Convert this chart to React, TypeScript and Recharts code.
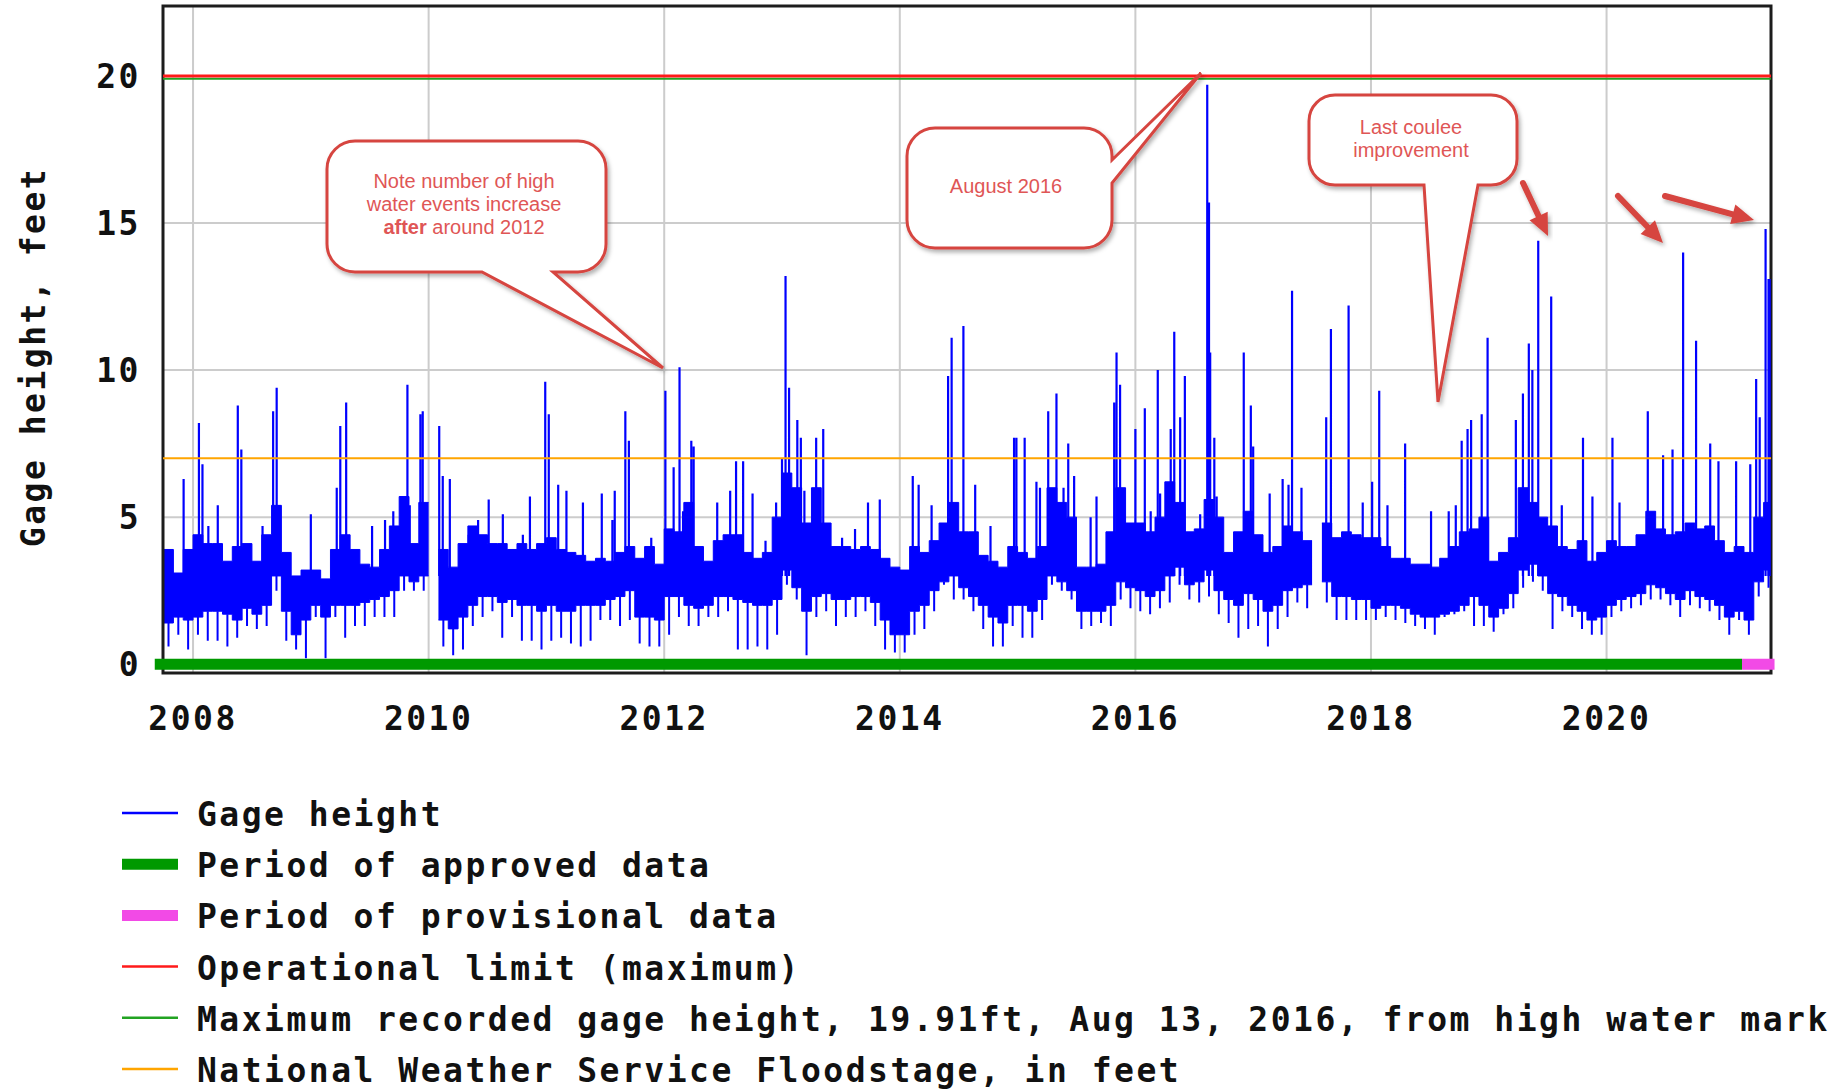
import React from 'react';
import {
  ComposedChart,
  Area,
  Line,
  XAxis,
  YAxis,
  CartesianGrid,
  ReferenceLine,
  ReferenceArea,
} from 'recharts';

const MONO = '"DejaVu Sans Mono", monospace';
const SANS = '"Liberation Sans", Arial, sans-serif';

// ---- axis ranges / ticks ----
const X_MIN = 2007.745;
const X_MAX = 2021.396;
const DATA_END = 2021.39;
const APPROVED_END = 2021.15;
const Y_MIN = -0.3;
const Y_MAX = 22.38;
const xTicks = [2008, 2010, 2012, 2014, 2016, 2018, 2020];
const yTicks = [0, 5, 10, 15, 20];

// ---- reference levels (feet) ----
const OPERATIONAL_LIMIT = 20.0;
const MAX_RECORDED = 19.91;
const FLOOD_STAGE = 7.0;

// ---- monthly body of the gage record, Oct 2007 .. May 2021 ----
const FIRST_YEAR = 2007;
const FIRST_MONTH = 10;
const bodyLow: (number | null)[] = [
  1.4, 1.6, 1.5,
  1.6, 1.8, 1.8, 1.7, 1.5, 1.9, 1.7, 2.0, 3.0, 1.8, 1.0, 1.5,
  2.0, 1.6, 2.0, 2.0, 2.0, 2.1, 2.2, 2.3, 2.5, 3.0, 2.8, 3.0,
  null, 1.5, 1.2, 1.6, 2.0, 2.3, 2.3, 2.1, 2.2, 2.0, 2.0, 1.8,
  2.0, 1.8, 1.8, 2.0, 2.0, 2.0, 2.2, 2.3, 2.5, 1.6, 1.6, 1.5,
  2.3, 2.3, 2.0, 1.9, 2.0, 2.3, 2.3, 2.2, 2.1, 2.0, 2.0, 2.2,
  3.2, 2.6, 1.8, 2.3, 2.4, 2.2, 2.2, 2.3, 2.3, 2.1, 1.5, 1.0,
  1.0, 1.8, 2.0, 2.5, 2.8, 3.0, 2.6, 2.3, 2.0, 1.6, 1.4, 2.0,
  2.0, 1.8, 2.2, 3.0, 2.8, 2.5, 1.8, 1.8, 1.8, 2.0, 2.8, 2.6,
  2.5, 2.3, 2.5, 3.0, 3.3, 2.7, 2.8, 3.2, 2.5, 2.2, 2.0, 2.4,
  2.2, 1.8, 2.0, 2.5, 2.6, 2.7, null, 2.8, 2.3, 2.3, 2.2, 2.2,
  1.9, 2.0, 2.0, 1.9, 1.7, 1.6, 1.6, 1.7, 1.8, 2.0, 2.3, 2.0,
  1.6, 1.9, 2.4, 3.2, 3.4, 3.0, 2.4, 2.3, 2.0, 1.8, 1.5, 1.6,
  2.0, 2.2, 2.3, 2.4, 2.7, 2.6, 2.4, 2.2, 2.5, 2.3, 2.2, 2.0,
  1.6, 1.8, 1.5, 2.8, 3.2,
];
const bodyHigh: (number | null)[] = [
  3.9, 3.1, 3.9,
  4.4, 4.1, 4.1, 3.5, 4.0, 4.1, 3.5, 4.4, 5.4, 3.8, 3.0, 3.2,
  3.2, 2.9, 3.9, 4.4, 3.9, 3.4, 3.3, 3.9, 4.7, 5.7, 4.1, 5.5,
  null, 3.9, 3.3, 4.1, 4.7, 4.4, 4.1, 4.1, 3.9, 4.1, 3.9, 4.1,
  4.3, 3.9, 3.8, 3.7, 3.5, 3.6, 3.5, 3.8, 4.0, 3.6, 4.0, 3.4,
  4.6, 4.5, 5.5, 4.0, 3.5, 4.2, 4.4, 4.4, 3.8, 3.6, 3.8, 5.0,
  6.5, 6.0, 4.8, 6.0, 4.8, 4.0, 4.0, 3.9, 4.0, 3.9, 3.6, 3.3,
  3.2, 4.0, 3.8, 4.2, 4.8, 5.5, 4.5, 4.5, 3.7, 3.5, 3.3, 4.0,
  3.8, 3.6, 4.0, 6.0, 5.5, 5.0, 3.3, 3.3, 3.4, 4.5, 6.0, 4.8,
  4.8, 4.5, 5.0, 6.2, 5.5, 4.5, 4.6, 5.6, 5.0, 3.8, 4.5, 5.2,
  4.4, 3.8, 4.0, 4.7, 4.5, 4.2, null, 4.8, 4.3, 4.5, 4.4, 4.3,
  4.3, 4.0, 3.6, 3.6, 3.4, 3.4, 3.3, 3.6, 4.0, 4.5, 4.6, 5.0,
  3.5, 3.8, 4.3, 6.0, 5.5, 5.0, 4.7, 4.0, 3.9, 4.2, 3.5, 3.8,
  4.2, 4.0, 4.0, 4.4, 5.2, 4.6, 4.4, 4.5, 4.8, 4.6, 4.7, 4.2,
  3.8, 4.0, 3.8, 5.0, 5.5,
];
const bodyMin: (number | null)[] = [
  0.6, 1.0, 0.5,
  1.0, 0.8, 0.8, 0.6, 0.9, 1.3, 1.2, 1.3, 2.5, 0.8, 0.5, 0.2,
  1.6, 0.2, 1.6, 0.9, 1.3, 1.3, 1.6, 1.6, 1.6, 2.5, 2.5, 2.5,
  null, 0.6, 0.3, 0.5, 1.3, 1.6, 1.8, 0.9, 1.6, 0.8, 0.8, 0.5,
  0.8, 0.9, 0.7, 0.6, 0.8, 1.5, 1.5, 1.3, 1.5, 0.7, 0.6, 0.6,
  1.0, 1.6, 1.3, 1.3, 1.6, 1.6, 1.8, 0.5, 0.5, 0.6, 0.5, 1.0,
  2.7, 2.2, 0.3, 1.6, 1.8, 1.3, 1.6, 1.6, 1.8, 1.3, 0.5, 0.4,
  0.4, 1.0, 1.2, 1.8, 2.7, 2.2, 2.2, 1.8, 1.2, 0.6, 0.6, 1.3,
  0.9, 0.9, 1.5, 2.7, 2.5, 2.2, 1.2, 1.3, 1.4, 1.3, 2.2, 1.9,
  1.8, 1.7, 1.9, 2.1, 2.7, 2.2, 2.1, 2.3, 1.7, 1.4, 0.9, 1.2,
  1.3, 0.6, 1.2, 1.6, 2.1, 1.9, null, 2.1, 1.5, 1.5, 1.5, 1.5,
  1.5, 1.6, 1.5, 1.4, 1.3, 1.2, 1.0, 1.6, 1.7, 1.8, 1.3, 1.3,
  1.1, 1.7, 1.9, 2.6, 2.8, 2.5, 1.2, 1.8, 1.6, 1.2, 1.0, 1.0,
  1.6, 1.8, 1.9, 2.0, 2.2, 2.2, 2.0, 1.6, 2.0, 1.9, 1.8, 1.5,
  1.0, 1.5, 1.0, 2.3, 2.6,
];

// ---- high-water spikes (decimal year, peak in feet) ----
const SPIKE_BASE = 3.0;
const spikeTimes = [
  2007.92, 2008.05, 2008.08, 2008.13, 2008.21, 2008.38, 2008.41, 2008.59, 2008.68, 2008.71, 2008.73,
  2009.0, 2009.22, 2009.25, 2009.3, 2009.52, 2009.63, 2009.7, 2009.77, 2009.82, 2009.84, 2009.93, 2009.95,
  2010.09, 2010.12, 2010.18, 2010.34, 2010.42, 2010.51, 2010.63, 2010.8, 2010.86, 2010.99,
  2011.02, 2011.1, 2011.17, 2011.31, 2011.47, 2011.56, 2011.58, 2011.67, 2011.7, 2011.89,
  2012.01, 2012.08, 2012.13, 2012.16, 2012.23, 2012.25, 2012.45, 2012.56, 2012.61, 2012.67, 2012.75, 2012.86, 2012.95,
  2013.0, 2013.03, 2013.06, 2013.13, 2013.16, 2013.19, 2013.29, 2013.35, 2013.51, 2013.62, 2013.73, 2013.83,
  2014.11, 2014.16, 2014.27, 2014.35, 2014.41, 2014.44, 2014.54, 2014.64, 2014.77, 2014.97, 2014.99,
  2015.06, 2015.16, 2015.19, 2015.26, 2015.33, 2015.39, 2015.43, 2015.48, 2015.62, 2015.67, 2015.82, 2015.84, 2015.87,
  2016.0, 2016.08, 2016.13, 2016.19, 2016.21, 2016.3, 2016.33, 2016.38, 2016.42, 2016.55, 2016.61, 2016.625, 2016.635, 2016.67, 2016.69, 2016.92, 2016.98,
  2017.0, 2017.14, 2017.25, 2017.3, 2017.33, 2017.41, 2017.62, 2017.66, 2017.81, 2017.93,
  2018.01, 2018.07, 2018.14, 2018.29, 2018.51, 2018.66, 2018.72, 2018.77, 2018.82, 2018.85, 2018.94, 2018.99,
  2019.23, 2019.29, 2019.34, 2019.37, 2019.42, 2019.53, 2019.62, 2019.8, 2019.88,
  2020.05, 2020.11, 2020.35, 2020.48, 2020.56, 2020.65, 2020.76, 2020.88, 2020.95,
  2021.1, 2021.22, 2021.27, 2021.3, 2021.35, 2021.375, 2021.385,
];
const spikePeaks = [
  6.3, 8.2, 6.8, 4.7, 5.4, 8.8, 7.3, 4.7, 8.6, 9.4, 5.4,
  5.1, 6.0, 8.1, 8.9, 4.7, 4.9, 5.2, 5.7, 9.5, 5.4, 8.5, 8.6,
  8.1, 6.4, 6.3, 4.4, 4.9, 5.6, 5.1, 4.4, 5.7, 9.6,
  8.5, 6.1, 5.9, 5.5, 5.8, 4.9, 5.9, 8.6, 7.6, 4.3,
  9.3, 6.7, 10.1, 5.2, 7.6, 7.4, 5.5, 5.9, 6.9, 6.9, 5.8, 4.2, 5.5,
  7.0, 13.2, 9.4, 8.3, 7.7, 5.9, 7.7, 8.0, 4.3, 4.6, 5.5, 5.6,
  6.4, 6.1, 5.4, 4.7, 9.8, 11.1, 11.5, 6.1, 4.7, 7.7, 7.7,
  7.7, 6.2, 6.0, 8.6, 9.2, 6.0, 7.5, 6.4, 5.0, 5.7, 8.9, 10.6, 9.5,
  8.0, 8.7, 5.2, 10.0, 5.8, 8.0, 11.3, 8.4, 9.8, 5.1, 19.7, 15.7, 10.6, 7.7, 5.7, 10.6, 8.8,
  7.4, 5.8, 6.3, 6.1, 12.7, 6.0, 8.4, 11.4, 12.2, 5.5,
  6.2, 9.3, 5.4, 7.5, 5.2, 5.2, 5.4, 7.6, 8.0, 8.3, 8.5, 11.1,
  8.3, 9.2, 10.9, 10.0, 14.4, 12.5, 5.4, 7.7, 5.7,
  7.7, 5.5, 8.6, 7.1, 7.3, 14.0, 11.0, 7.5, 6.9,
  6.9, 6.8, 9.7, 8.4, 14.8, 13.1, 13.1,
];

// ---- legend ----
const legendLabels = [
  'Gage height',
  'Period of approved data',
  'Period of provisional data',
  'Operational limit (maximum)',
  'Maximum recorded gage height, 19.91ft, Aug 13, 2016, from high water mark',
  'National Weather Service Floodstage, in feet',
];
const legendColors = ['#0000ff', '#009900', '#f24ae6', '#ff1a1a', '#22a322', '#ffa500'];
const legendWidths = [2.5, 11, 11, 2.5, 2.5, 2.5];

// ---- derived rows for the library ----
type BodyRow = { t: number; range: [number, number] | null };
const bodyRows: BodyRow[] = [];
const dipRows: { t: number; v: number | null }[] = [];
bodyLow.forEach((lo, i) => {
  const mIndex = FIRST_MONTH - 1 + i;
  const start = FIRST_YEAR + mIndex / 12;
  const end = Math.min(start + 1 / 12, DATA_END);
  const hi = bodyHigh[i];
  const range: [number, number] | null = lo == null || hi == null ? null : [lo, hi];
  bodyRows.push({ t: Math.max(start, X_MIN), range });
  bodyRows.push({ t: end, range });
  const mn = bodyMin[i];
  if (lo != null && mn != null) {
    const mid = start + 1 / 24;
    dipRows.push({ t: mid, v: lo });
    dipRows.push({ t: mid, v: mn });
    dipRows.push({ t: mid, v: null });
  }
});
const spikeRows: { t: number; v: number | null }[] = [];
spikeTimes.forEach((t, i) => {
  spikeRows.push({ t, v: SPIKE_BASE });
  spikeRows.push({ t, v: spikePeaks[i] });
  spikeRows.push({ t, v: null });
});

const tickFont = {
  fontFamily: MONO,
  fontSize: 33,
  fontWeight: 700,
  letterSpacing: 2.5,
};

const XTick = (props: any) => {
  const { x, y, payload } = props;
  return (
    <text x={x} y={y + 57} textAnchor="middle" fill="#111" style={tickFont}>
      {String(payload.value)}
    </text>
  );
};

const YTick = (props: any) => {
  const { x, y, payload } = props;
  return (
    <text x={x - 22} y={y + 12} textAnchor="end" fill="#111" style={tickFont}>
      {String(payload.value)}
    </text>
  );
};

// ---- annotation helpers ----
const CALLOUT_STROKE = '#d6453f';
const CALLOUT_TEXT = '#df5656';

function boxBottomTail(x0: number, y0: number, x1: number, y1: number, r: number, a: number, b: number, tx: number, ty: number) {
  return `M${x0 + r},${y0} H${x1 - r} A${r},${r} 0 0 1 ${x1},${y0 + r} V${y1 - r} A${r},${r} 0 0 1 ${x1 - r},${y1} H${b} L${tx},${ty} L${a},${y1} H${x0 + r} A${r},${r} 0 0 1 ${x0},${y1 - r} V${y0 + r} A${r},${r} 0 0 1 ${x0 + r},${y0} Z`;
}
function boxRightTail(x0: number, y0: number, x1: number, y1: number, r: number, a: number, b: number, tx: number, ty: number) {
  return `M${x0 + r},${y0} H${x1 - r} A${r},${r} 0 0 1 ${x1},${y0 + r} V${a} L${tx},${ty} L${x1},${b} V${y1 - r} A${r},${r} 0 0 1 ${x1 - r},${y1} H${x0 + r} A${r},${r} 0 0 1 ${x0},${y1 - r} V${y0 + r} A${r},${r} 0 0 1 ${x0 + r},${y0} Z`;
}

function Arrow({ from, to }: { from: [number, number]; to: [number, number] }) {
  const dx = to[0] - from[0];
  const dy = to[1] - from[1];
  const len = Math.hypot(dx, dy);
  const ux = dx / len;
  const uy = dy / len;
  const headLen = 22;
  const headW = 10;
  const bx = to[0] - ux * headLen;
  const by = to[1] - uy * headLen;
  const px = -uy;
  const py = ux;
  return (
    <g filter="url(#shadow)">
      <line x1={from[0]} y1={from[1]} x2={bx + ux * 3} y2={by + uy * 3} stroke={CALLOUT_STROKE} strokeWidth={6} strokeLinecap="round" />
      <polygon
        points={`${to[0]},${to[1]} ${bx + px * headW},${by + py * headW} ${bx - px * headW},${by - py * headW}`}
        fill={CALLOUT_STROKE}
      />
    </g>
  );
}

export default function App() {
  const calloutText = { fontFamily: SANS, fontSize: 20, fill: CALLOUT_TEXT } as const;
  return (
    <div style={{ position: 'absolute', left: 0, top: 0, width: 1837, height: 1091, background: '#fff', overflow: 'hidden' }}>
      <ComposedChart width={1837} height={760} data={bodyRows} margin={{ top: 6, right: 66, bottom: 0, left: 0 }}>
        <CartesianGrid stroke="#cccccc" strokeWidth={2} />
        <XAxis
          dataKey="t"
          type="number"
          domain={[X_MIN, X_MAX]}
          allowDataOverflow
          ticks={xTicks}
          interval={0}
          tick={XTick}
          tickLine={false}
          axisLine={false}
          tickSize={0}
          tickMargin={0}
          height={87}
        />
        <YAxis
          type="number"
          domain={[Y_MIN, Y_MAX]}
          allowDataOverflow
          ticks={yTicks}
          interval={0}
          tick={YTick}
          tickLine={false}
          axisLine={false}
          tickSize={0}
          tickMargin={0}
          width={163}
        />
        <Area
          dataKey="range"
          type="linear"
          stroke="#0000ff"
          strokeWidth={1}
          fill="#0000ff"
          fillOpacity={1}
          connectNulls={false}
          dot={false}
          activeDot={false}
          isAnimationActive={false}
        />
        <Line
          data={dipRows}
          dataKey="v"
          type="linear"
          stroke="#0000ff"
          strokeWidth={2}
          dot={false}
          activeDot={false}
          connectNulls={false}
          isAnimationActive={false}
        />
        <Line
          data={spikeRows}
          dataKey="v"
          type="linear"
          stroke="#0000ff"
          strokeWidth={2.2}
          dot={false}
          activeDot={false}
          connectNulls={false}
          isAnimationActive={false}
        />
        <ReferenceLine y={FLOOD_STAGE} stroke="#ffa500" strokeWidth={2} />
        <ReferenceLine y={MAX_RECORDED} stroke="#22a322" strokeWidth={2} />
        <ReferenceLine y={OPERATIONAL_LIMIT} stroke="#ff1a1a" strokeWidth={3} />
        <ReferenceLine
          segment={[{ x: X_MIN - 0.07, y: 0 }, { x: APPROVED_END, y: 0 }]}
          stroke="#009900"
          strokeWidth={11}
          ifOverflow="visible"
        />
        <ReferenceLine
          segment={[{ x: APPROVED_END, y: 0 }, { x: X_MAX + 0.03, y: 0 }]}
          stroke="#f24ae6"
          strokeWidth={11}
          ifOverflow="visible"
        />
        <ReferenceArea
          x1={X_MIN}
          x2={X_MAX}
          y1={Y_MIN}
          y2={Y_MAX}
          fill="none"
          fillOpacity={0}
          stroke="#1c1c1c"
          strokeWidth={3}
          ifOverflow="visible"
        />
      </ComposedChart>

      <svg width={1837} height={1091} style={{ position: 'absolute', left: 0, top: 0, pointerEvents: 'none' }}>
        <defs>
          <filter id="shadow" x="-20%" y="-20%" width="140%" height="140%">
            <feDropShadow dx="2" dy="3" stdDeviation="2" floodColor="#000" floodOpacity="0.3" />
          </filter>
        </defs>

        {/* y axis title */}
        <text
          x={45}
          y={357}
          transform="rotate(-90 45 357)"
          textAnchor="middle"
          fill="#111"
          style={tickFont}
        >
          Gage height, feet
        </text>

        {/* callout 1 */}
        <path d={boxBottomTail(327, 141, 606, 272, 28, 482, 553, 663, 368)} fill="#fff" stroke={CALLOUT_STROKE} strokeWidth={3} filter="url(#shadow)" />
        <text x={464} y={188} textAnchor="middle" style={calloutText}>Note number of high</text>
        <text x={464} y={211} textAnchor="middle" style={calloutText}>water events increase</text>
        <text x={464} y={234} textAnchor="middle" style={calloutText}>
          <tspan fontWeight={700}>after</tspan> around 2012
        </text>

        {/* callout 2 */}
        <path d={boxRightTail(907, 128, 1112, 248, 28, 160, 183, 1201, 73)} fill="#fff" stroke={CALLOUT_STROKE} strokeWidth={3} filter="url(#shadow)" />
        <text x={1006} y={193} textAnchor="middle" style={calloutText}>August 2016</text>

        {/* callout 3 */}
        <path d={boxBottomTail(1309, 95, 1517, 185, 26, 1424, 1478, 1438, 402)} fill="#fff" stroke={CALLOUT_STROKE} strokeWidth={3} filter="url(#shadow)" />
        <text x={1411} y={134} textAnchor="middle" style={calloutText}>Last coulee</text>
        <text x={1411} y={157} textAnchor="middle" style={calloutText}>improvement</text>

        <Arrow from={[1523, 183]} to={[1548, 236]} />
        <Arrow from={[1618, 196]} to={[1663, 243]} />
        <Arrow from={[1665, 196]} to={[1754, 220]} />

        {/* legend */}
        {legendLabels.map((label, i) => {
          const y = 813 + i * 51.2;
          return (
            <g key={label}>
              <line x1={122} x2={178} y1={y} y2={y} stroke={legendColors[i]} strokeWidth={legendWidths[i]} />
              <text x={197} y={y + 13} fill="#111" style={tickFont}>
                {label}
              </text>
            </g>
          );
        })}
      </svg>
    </div>
  );
}
